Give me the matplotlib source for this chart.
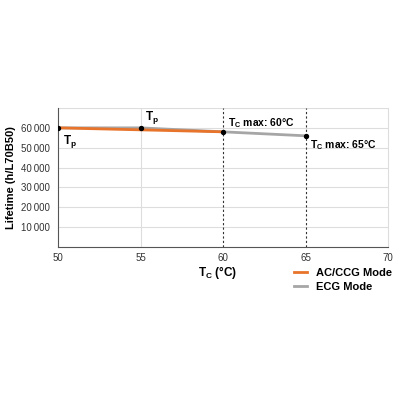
import matplotlib
matplotlib.use("Agg")
import matplotlib.pyplot as plt

plt.rcParams['font.family'] = ['Liberation Sans', 'DejaVu Sans']

ac_x = [50, 55, 60]
ac_y = [60000, 59000, 58000]
ecg_x = [50, 55, 60, 65]
ecg_y = [60000, 60000, 58000, 56000]
pts_x = [50, 55, 60, 65]
pts_y = [60000, 60000, 58000, 56000]
yticks = [10000, 20000, 30000, 40000, 50000, 60000]
xticks = [50, 55, 60, 65, 70]

fig = plt.figure(figsize=(4, 4), dpi=100)
ax = fig.add_axes([0.145, 0.3825, 0.825, 0.3475])
ax.set_xlim(50, 70)
ax.set_ylim(0, 70000)
for y in yticks + [70000]:
    ax.axhline(y, color='#dddddd', lw=0.8, zorder=0)
ax.axvline(55, color='#dddddd', lw=0.8, zorder=0)
ax.axvline(60, color='#333333', lw=0.8, ls=(0, (2, 2)), zorder=1)
ax.axvline(65, color='#333333', lw=0.8, ls=(0, (2, 2)), zorder=1)

ax.plot(ecg_x, ecg_y, color='#a6a6a6', lw=2, zorder=2, label='ECG Mode')
ax.plot(ac_x, ac_y, color='#e8732a', lw=2, zorder=3, label='AC/CCG Mode')
ax.scatter(pts_x, pts_y, color='black', s=8, zorder=4)

ax.text(50.3, 57500, r'T$_\mathregular{p}$', fontsize=8.5, fontweight='bold', va='top', ha='left')
ax.text(55.3, 61000, r'T$_\mathregular{p}$', fontsize=8.5, fontweight='bold', va='bottom', ha='left')
ax.text(60.3, 59000, r'T$_\mathregular{C}$ max: 60°C', fontsize=7.5, fontweight='bold', va='bottom', ha='left')
ax.text(65.3, 55000, r'T$_\mathregular{C}$ max: 65°C', fontsize=7.5, fontweight='bold', va='top', ha='left')

ax.set_xticks(xticks)
ax.set_yticks(yticks)
ax.set_yticklabels([f"{v:,}".replace(",", "\u2009") for v in yticks])
ax.tick_params(length=0, labelsize=7, colors='#333333', pad=6)
ax.tick_params(axis='x', pad=4)
ax.spines['top'].set_visible(False)
ax.spines['right'].set_color('#dddddd')
ax.spines['left'].set_color('#555555')
ax.spines['bottom'].set_color('#555555')
ax.set_ylabel('Lifetime (h/L70B50)', fontsize=8, fontweight='bold', labelpad=3)

fig.text(0.545, 0.318, r'T$_\mathregular{C}$ (°C)', fontsize=8.5, fontweight='bold', ha='center', va='center')

h, l = ax.get_legend_handles_labels()
fig.legend([h[1], h[0]], [l[1], l[0]], loc='center left', bbox_to_anchor=(0.71, 0.3),
           frameon=False, prop={'weight': 'bold', 'size': 8},
           handlelength=1.2, labelspacing=0.35, handletextpad=0.8)

fig.savefig('out.png', dpi=100)
